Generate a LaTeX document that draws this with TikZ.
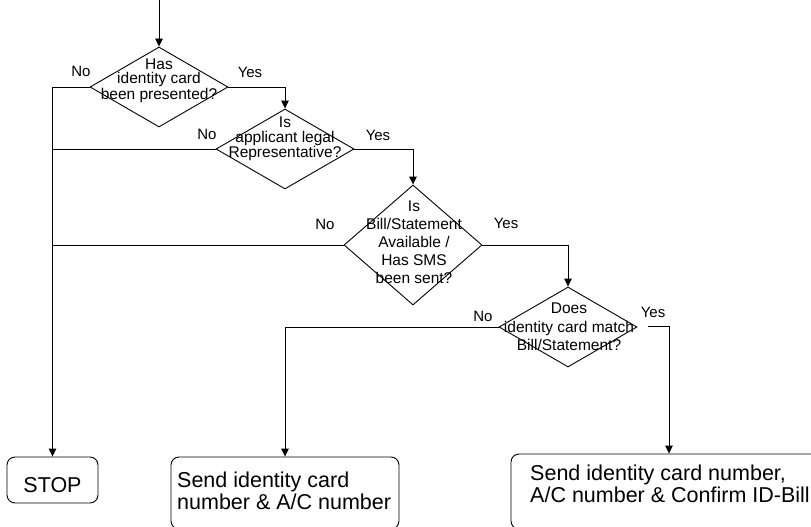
\documentclass[tikz,border=0pt]{standalone}
\usepackage{fontspec}
\setmainfont{Liberation Sans}
\usetikzlibrary{arrows.meta,shapes.geometric,calc}
\begin{document}
\begin{tikzpicture}[x=1pt,y=-1pt,
  flow/.style={draw=black, line width=0.9pt},
  arr/.style={flow, -{Triangle[length=8pt,width=7.5pt]}},
  decision/.style={draw=black, line width=0.9pt, shape=diamond, inner sep=0pt,
    minimum width=138pt, minimum height=#1},
  qtext/.style={align=center, inner sep=0pt, font=\fontsize{15.5}{#1}\selectfont},
  lbl/.style={inner sep=0pt, font=\fontsize{15}{18}\selectfont},
  endbox/.style={draw=black, line width=0.9pt, rounded corners=8pt, inner sep=0pt,
    font=\fontsize{21.5}{21.5}\selectfont},
  boxtext/.style={align=left, inner sep=0pt, anchor=north west,
    font=\fontsize{21.5}{21.5}\selectfont}
]
\useasboundingbox (0,0) rectangle (811,527);

% entry point
\coordinate (entry) at (159,0);

% decisions
\node[decision=80pt]  (d1) at (159,87) {};
\node[decision=80pt]  (d2) at (285,149) {};
\node[decision=120pt] (d3) at (413,245) {};
\node[decision=80pt]  (d4) at (568,327) {};

\node[qtext=14] (q1) at (159,81) {Has\\identity card\\been presented?};
\node[qtext=15] (q2) at (285,139) {Is\\applicant legal\\Representative?};
\node[qtext=18] (q3) at (414,242) {Is\\Bill/Statement\\Available /\\Has SMS\\been sent?};
\node[qtext=18.5] (q4) at (569,327) {Does\\identity card match\\Bill/Statement?};

% outcomes
\node[endbox, minimum width=91pt, minimum height=46pt, text height=25pt, text depth=0pt]
  (stop) at (52.5,480) {STOP};
\node[endbox, minimum width=228pt, minimum height=72pt] (send1) at (285,493) {};
\node[endbox, minimum width=316pt, minimum height=75pt] (send2) at (669,491.5) {};
\node[boxtext] (send1t) at (177,472) {Send identity card\\number \& A/C number};
\node[boxtext] (send2t) at (530,465) {Send identity card number,\\A/C number \& Confirm ID-Bill};

% branch labels
\node[lbl] (no1)  at (81,71)   {No};
\node[lbl] (yes1) at (250,72)  {Yes};
\node[lbl] (no2)  at (207,134) {No};
\node[lbl] (yes2) at (378,135) {Yes};
\node[lbl] (no3)  at (325,224) {No};
\node[lbl] (yes3) at (506,223) {Yes};
\node[lbl] (no4)  at (483,316) {No};
\node[lbl] (yes4) at (653,312) {Yes};

% connectors
\coordinate (y4) at (648,326);
\draw[arr] (entry) -- (d1.north);
\draw[arr] (d1.west) -| (stop.north);
\draw[flow] (d2.west) -- (d2.west -| stop.north);
\draw[flow] (d3.west) -- (d3.west -| stop.north);
\draw[arr] (d1.east) -| (d2.north);
\draw[arr] (d2.east) -| (d3.north);
\draw[arr] (d3.east) -| (d4.north);
\draw[arr] (d4.west) -| (send1.north);
\draw[arr] (y4) -| (send2.north);
\end{tikzpicture}
\end{document}
